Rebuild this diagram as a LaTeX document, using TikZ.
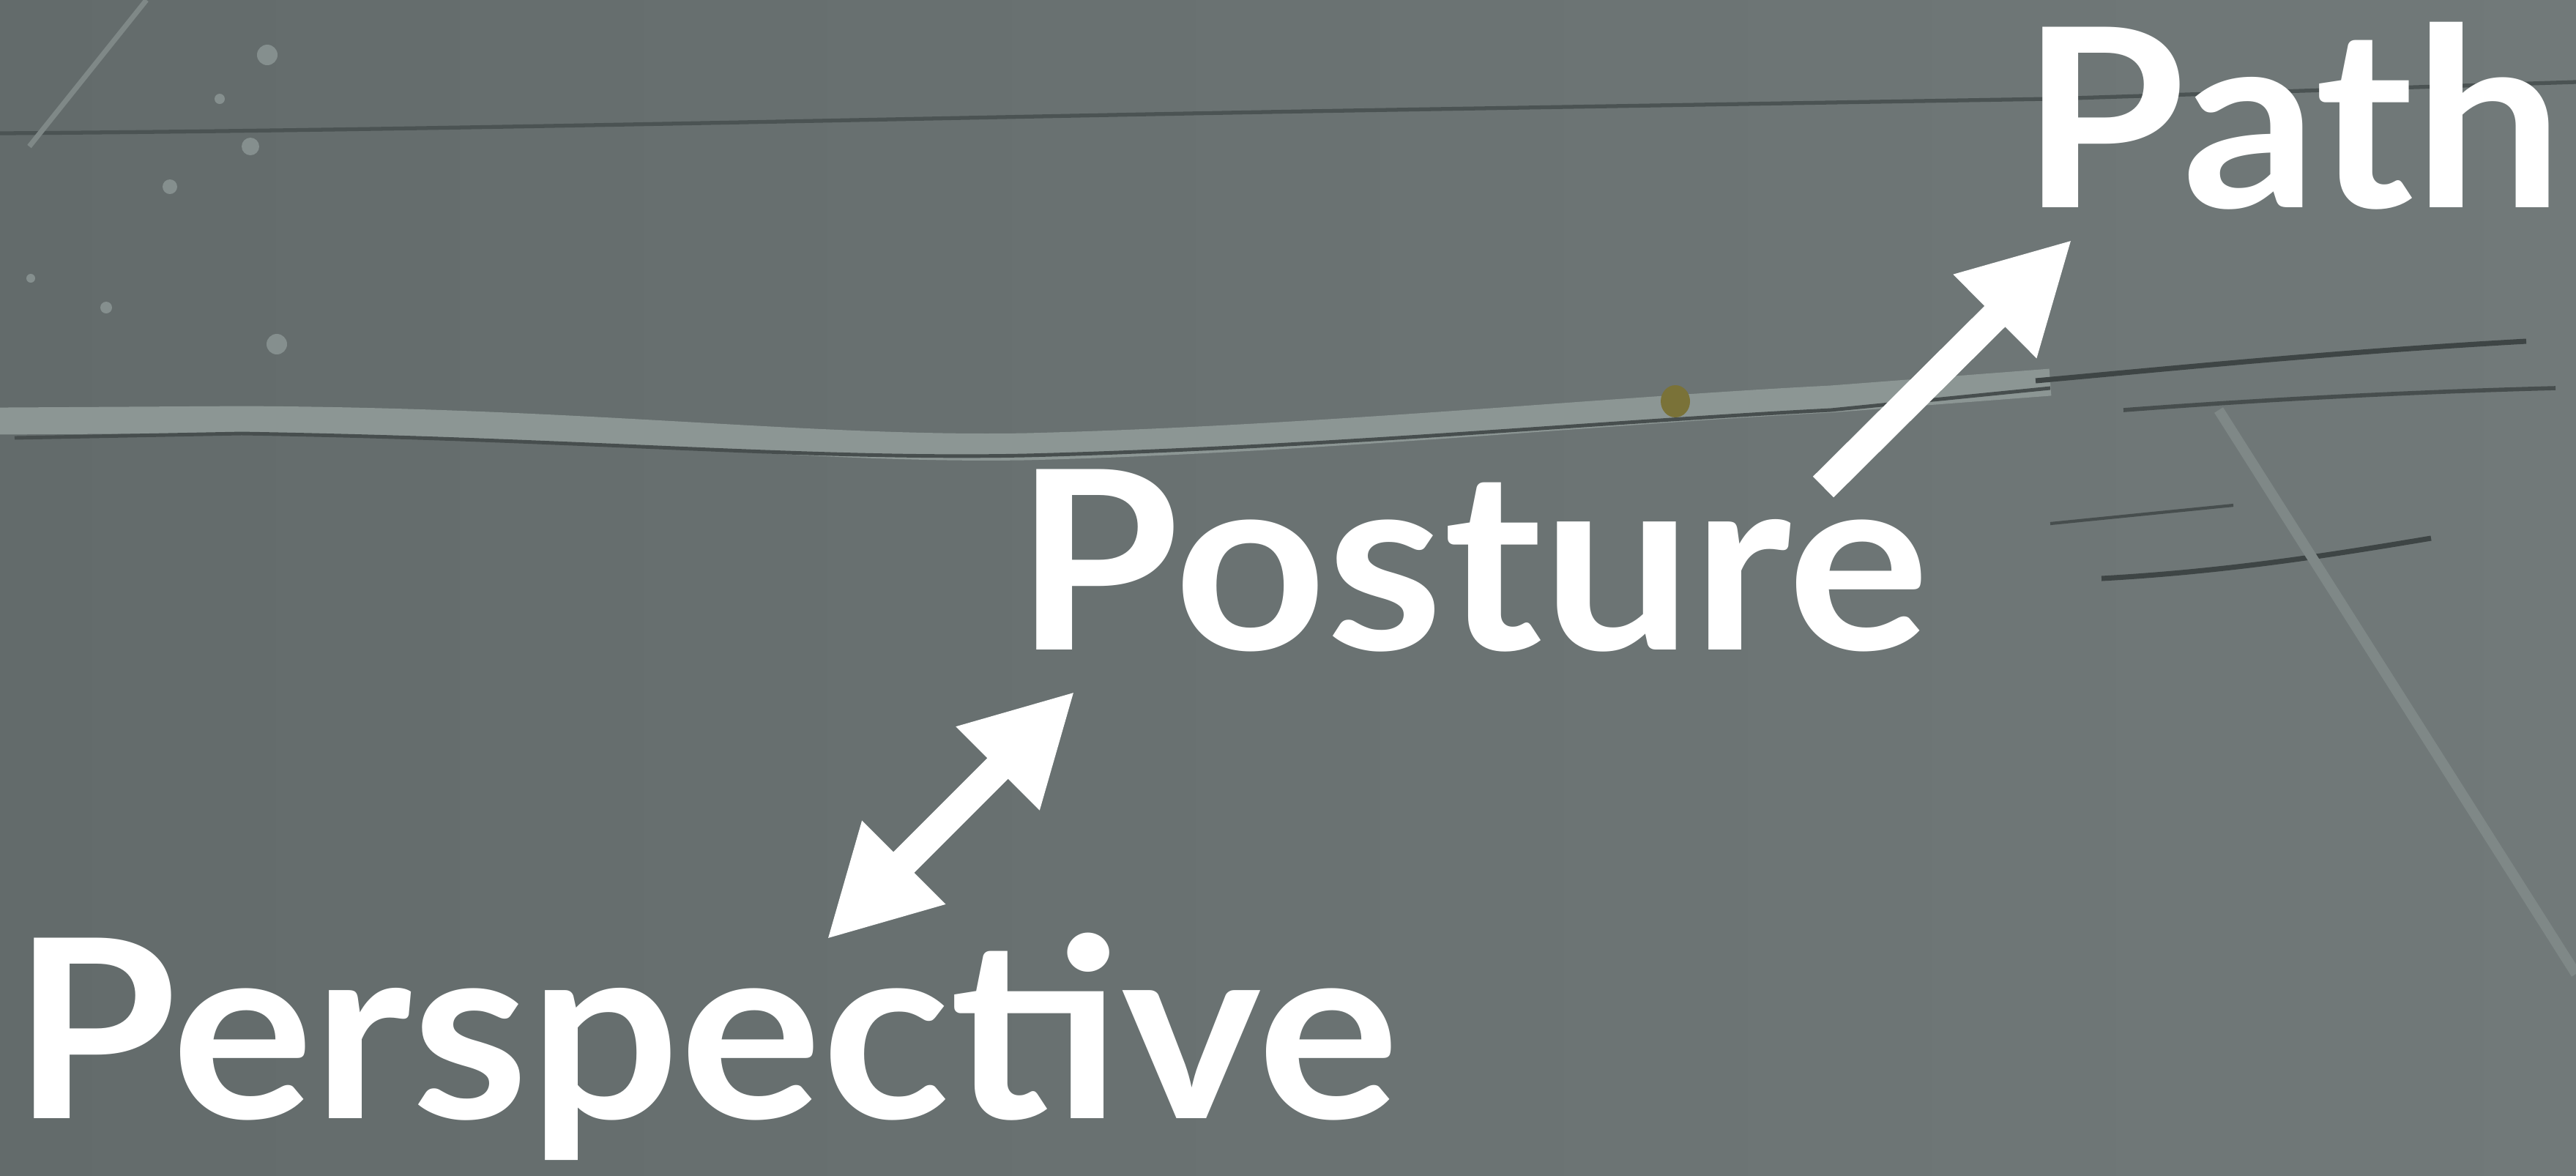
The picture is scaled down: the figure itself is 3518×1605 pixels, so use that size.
\documentclass[tikz,border=0pt]{standalone}
\usepackage{fontspec}
\setmainfont{Lato}[FakeStretch=1.065]
\usetikzlibrary{arrows.meta}
\definecolor{concreteL}{HTML}{636B6B}
\definecolor{concreteR}{HTML}{717979}
\definecolor{concrete}{HTML}{6B7373}
\definecolor{seam}{HTML}{8C9694}
\definecolor{crackdark}{HTML}{3E4545}
\definecolor{moss}{HTML}{7A7238}
\tikzset{
  word/.style={text=white, font=\fontsize{97}{97}\selectfont\bfseries, inner sep=0pt, anchor=base west},
  bigarrow/.style={draw=white, line width=11.4pt},
  bigtip/.tip={Triangle[length=42.4pt,width=42.7pt]},
}
\begin{document}
\begin{tikzpicture}[x=0.1mm,y=-0.1mm]
\useasboundingbox (0,0) rectangle (3518,1605);
\shade[left color=concreteL,right color=concreteR] (0,0) rectangle (3518,1605);
% background: seams and scratches of the concrete
\draw[crackdark!70!concrete,line width=1.5pt] (0,182) .. controls (600,178) and (1300,160) .. (1900,150) -- (2800,135) -- (3518,112);
\draw[seam,line width=10.5pt] (0,575) -- (330,573) .. controls (800,575) and (1100,615) .. (1400,610) .. controls (1800,600) and (2200,560) .. (2500,545) -- (2800,522);
\draw[crackdark!80!concrete,line width=1.4pt] (20,598) -- (330,592) .. controls (800,600) and (1100,628) .. (1400,622) .. controls (1800,612) and (2200,575) .. (2500,560) -- (2800,530);
\draw[crackdark,line width=2pt] (2780,520) .. controls (3000,500) and (3200,480) .. (3450,466);
\draw[crackdark!80!concrete,line width=1.6pt] (2900,560) .. controls (3100,545) and (3300,535) .. (3490,530);
\draw[crackdark!80!concrete,line width=1.2pt] (2800,715) -- (3050,690);
\draw[crackdark,line width=2pt] (2870,790) .. controls (3050,780) and (3200,755) .. (3320,735);
\draw[seam!60!concrete,line width=4pt] (3030,560) -- (3518,1330);
\draw[seam!60!concrete,line width=2pt] (200,0) -- (40,200);
\fill[moss] (2288,548) ellipse (20 and 22);
\foreach \sx/\sy/\sr in {365/75/14, 342/200/12, 232/255/10, 145/420/8, 378/470/14, 42/380/6, 300/135/7}
  \fill[seam!80!concrete] (\sx,\sy) circle (\sr);
% words
\node[word] (path) at (2760,283) {Path};
\node[word] (posture) at (1386,887) {Posture};
\node[word] (perspective) at (17,1527) {Perspective};
% arrows
\coordinate (posturetail) at (2490,665);
\coordinate (pathhead) at (2830,327);
\coordinate (perspectivehead) at (1129,1283);
\coordinate (posturehead) at (1468,944);
\draw[bigarrow,-bigtip] (posturetail) -- (pathhead);
\draw[bigarrow,bigtip-bigtip] (perspectivehead) -- (posturehead);
\end{tikzpicture}
\end{document}
